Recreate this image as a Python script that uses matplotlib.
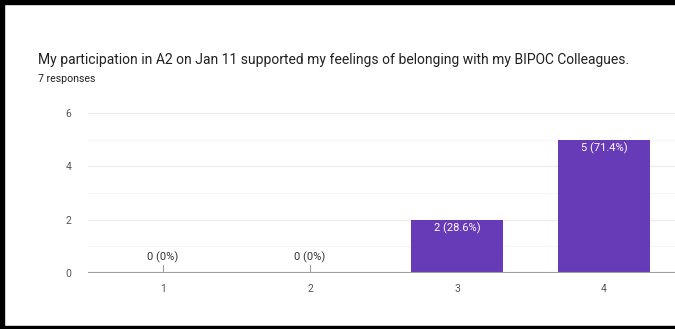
import matplotlib
matplotlib.use('Agg')
import matplotlib.pyplot as plt
from matplotlib.patches import Rectangle

# survey answers
categories = ['1', '2', '3', '4']
counts = [0, 0, 2, 5]
labels = ['0 (0%)', '0 (0%)', '2 (28.6%)', '5 (71.4%)']
title = 'My participation in A2 on Jan 11 supported my feelings of belonging with my BIPOC Colleagues.'
subtitle = '7 responses'

plt.rcParams['font.family'] = ['Roboto', 'DejaVu Sans']

W, H = 675, 329
fig = plt.figure(figsize=(W/100, H/100), dpi=100)
fig.patch.set_facecolor('white')

# axes placed in pixel terms
left, right, top, bottom = 88, 675, 113, 273
ax = fig.add_axes([left/W, 1-bottom/H, (right-left)/W, (bottom-top)/H])
x = [1, 2, 3, 4]
ax.bar(x, counts, width=0.62, color='#673ab7', zorder=3)
ax.set_xlim(0.49, 0.49 + (right-left)/147.)
ax.set_ylim(0, 6)

# gridlines
for v in [1, 3, 5]:
    ax.axhline(v, color='#f6f6f6', lw=0.8, zorder=1)
for v in [2, 4, 6]:
    ax.axhline(v, color='#ebebeb', lw=0.9, zorder=1)
ax.axhline(0, color='#9e9e9e', lw=1.5, zorder=4)

for s in ax.spines.values():
    s.set_visible(False)
ax.set_yticks([0, 2, 4, 6])
ax.set_xticks(x)
ax.set_xticklabels(categories)
ax.tick_params(length=0, labelsize=7.5, colors='#555555', pad=8)
ax.tick_params(axis='y', pad=12)

for xi, c, lab in zip(x, counts, labels):
    if c == 0:
        ax.plot([xi, xi], [0, 0.3], color='#9e9e9e', lw=0.8, zorder=4)
        ax.text(xi, 0.38, lab, ha='center', va='bottom', fontsize=8, color='#333333')
    else:
        ax.text(xi, c - 0.1, lab, ha='center', va='top', fontsize=8, color='white', zorder=5)

fig.text(38/W, 1-60/H, title, fontsize=10.0, color='#212121', va='center', ha='left')
fig.text(38/W, 1-79/H, subtitle, fontsize=7.6, color='#212121', va='center', ha='left')

# black frame of the screenshot (no right edge)
fig.patches.append(Rectangle((0, 1-4/H), 1, 4/H, transform=fig.transFigure, color='black', zorder=10))
fig.patches.append(Rectangle((0, 0), 3.5/W, 1, transform=fig.transFigure, color='black', zorder=10))
fig.patches.append(Rectangle((0, 0), 1, 3.5/H, transform=fig.transFigure, color='black', zorder=10))

fig.savefig('out.png', dpi=100)
